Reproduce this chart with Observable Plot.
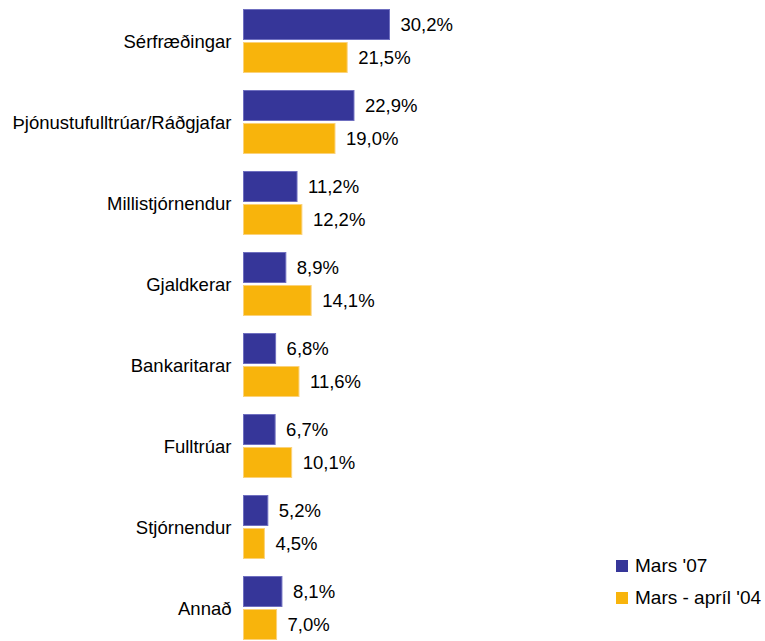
<!DOCTYPE html>
<html>
<head>
<meta charset="utf-8">
<script src="https://cdn.jsdelivr.net/npm/d3@7"></script>
<script src="https://cdn.jsdelivr.net/npm/@observablehq/plot@0.6"></script>
<style>
  html, body { margin: 0; padding: 0; background: #fff; }
  #wrap { position: relative; width: 765px; height: 641px; font-family: "Liberation Sans", Arial, Helvetica, sans-serif; }
  .legend { position: absolute; left: 616px; top: 550px; font-size: 19px; color: #000; }
  .legend .row { display: flex; align-items: center; height: 32px; }
  .legend .sw { width: 12px; height: 12px; margin-right: 7px; }
</style>
</head>
<body>
<div id="wrap"></div>
<script>
const categories = ["Sérfræðingar", "Þjónustufulltrúar/Ráðgjafar", "Millistjórnendur", "Gjaldkerar", "Bankaritarar", "Fulltrúar", "Stjórnendur", "Annað"];
const series = ["Mars '07", "Mars - apríl '04"];
const mars07 = [30.2, 22.9, 11.2, 8.9, 6.8, 6.7, 5.2, 8.1];
const mars04 = [21.5, 19.0, 12.2, 14.1, 11.6, 10.1, 4.5, 7.0];
const colors = ["#363699", "#f8b40c"];
const strokes = ["#6f6fc0", "#fbd27a"];

const data = [];
categories.forEach((c, i) => {
  data.push({category: c, series: series[0], value: mars07[i]});
  data.push({category: c, series: series[1], value: mars04[i]});
});
const fmt = v => v.toFixed(1).replace(".", ",") + "%";

const chart = Plot.plot({
  width: 765,
  height: 641,
  marginLeft: 243,
  marginRight: 375,
  marginTop: 9,
  marginBottom: 0,
  style: {fontFamily: '"Liberation Sans", Arial, Helvetica, sans-serif', fontSize: "18.5px", color: "#000", background: "transparent", overflow: "visible"},
  x: {domain: [0, d3.max(mars07.concat(mars04))], axis: null},
  y: {domain: series, axis: null, paddingInner: 0.06, paddingOuter: 0},
  fy: {domain: categories, paddingInner: 0.2, paddingOuter: 0, axis: null},
  color: {domain: series, range: colors},
  marks: [
    Plot.barX(data, {x: "value", y: "series", fy: "category", fill: "series",
      stroke: d => strokes[series.indexOf(d.series)], strokeWidth: 1, inset: 0.5}),
    Plot.text(data, {x: "value", y: "series", fy: "category", text: d => fmt(d.value),
      textAnchor: "start", dx: 10, fill: "#000", fontSize: 18.5}),
    Plot.axisFy({anchor: "left", tickSize: 0, tickPadding: 12, label: null, fontSize: 18.5, fill: "#000"})
  ]
});
const wrap = document.getElementById("wrap");
wrap.appendChild(chart);

const legend = document.createElement("div");
legend.className = "legend";
series.forEach((s, i) => {
  const row = document.createElement("div");
  row.className = "row";
  const sw = document.createElement("div");
  sw.className = "sw";
  sw.style.background = colors[i];
  const t = document.createElement("span");
  t.textContent = s;
  row.appendChild(sw);
  row.appendChild(t);
  legend.appendChild(row);
});
wrap.appendChild(legend);
</script>
</body>
</html>
